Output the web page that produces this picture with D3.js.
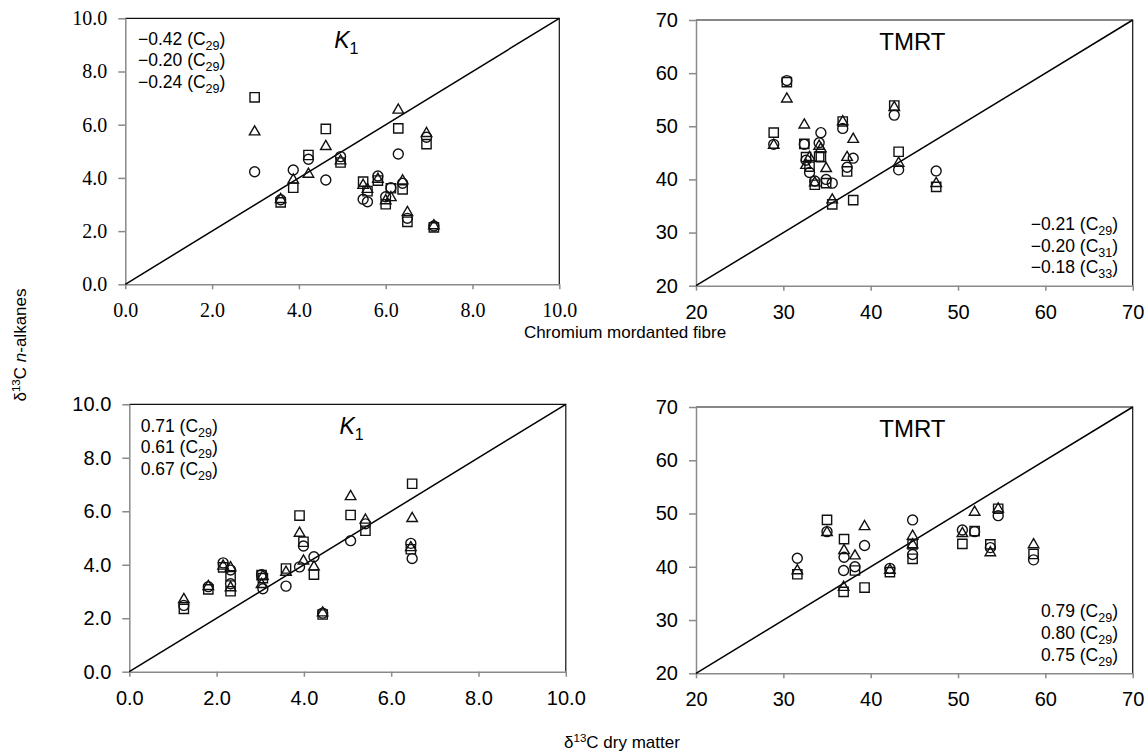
<!DOCTYPE html>
<html>
<head>
<meta charset="utf-8">
<script src="https://cdn.jsdelivr.net/npm/d3@7"></script>
<style>
  body { margin: 0; background: #fff; }
  text { fill: #000; }
</style>
</head>
<body>
<script>
// K1 panels (same samples in both rows)
const k1Circle   = [4.23, 3.18, 4.30, 4.70, 3.92, 4.80, 3.20, 3.10, 4.07, 3.29, 3.63, 4.90, 3.80, 2.48, 5.53, 2.19];
const k1Triangle = [5.76, 3.22, 3.95, 4.17, 5.21, 4.67, 3.75, 3.60, 3.98, 3.17, 3.29, 6.58, 3.92, 2.73, 5.70, 2.23];
const k1Square   = [7.03, 3.08, 3.63, 4.86, 5.84, 4.58, 3.86, 3.50, 3.90, 3.01, 3.61, 5.86, 3.57, 2.35, 5.27, 2.14];
const k1Fibre    = [2.98, 3.58, 3.87, 4.22, 4.62, 4.96, 5.48, 5.58, 5.82, 6.00, 6.12, 6.29, 6.39, 6.50, 6.94, 7.11];
const k1Dry      = [6.48, 1.81, 4.23, 3.99, 3.90, 6.45, 3.59, 3.06, 2.15, 2.32, 3.03, 5.07, 2.32, 1.25, 5.41, 4.43];

// TMRT panels
const tmrtCircle   = [46.6, 58.6, 46.6, 43.6, 41.3, 39.7, 46.9, 48.8, 40.0, 39.3, 49.6, 42.3, 44.0, 52.1, 41.8, 41.6];
const tmrtTriangle = [46.6, 55.3, 50.4, 42.8, 44.3, 39.5, 46.4, 45.9, 42.2, 36.3, 51.0, 44.3, 47.7, 53.7, 43.2, 39.4];
const tmrtSquare   = [48.8, 58.3, 46.7, 44.2, 42.4, 39.0, 44.3, 44.2, 39.3, 35.3, 50.9, 41.5, 36.1, 53.9, 45.2, 38.6];
const tmrtFibre    = [28.9, 30.4, 32.4, 32.6, 33.0, 33.6, 34.1, 34.3, 34.9, 35.6, 36.8, 37.3, 38.0, 42.7, 43.2, 47.5];
const tmrtDry      = [35.0, null, 51.9, 53.7, 58.65, 42.2, 50.5, 44.8, 38.2, 36.9, 54.6, 44.8, 39.3, null, 36.95, 31.6];

const k1Ticks = [0, 2, 4, 6, 8, 10];
const tmrtTicks = [20, 30, 40, 50, 60, 70];

const corrFibreK1 = [["−0.42", "29"], ["−0.20", "29"], ["−0.24", "29"]];
const corrFibreTmrt = [["−0.21", "29"], ["−0.20", "31"], ["−0.18", "33"]];
const corrDryK1 = [["0.71", "29"], ["0.61", "29"], ["0.67", "29"]];
const corrDryTmrt = [["0.79", "29"], ["0.80", "29"], ["0.75", "29"]];

const sans = "'Liberation Sans', Arial, sans-serif";
const serif = "'Liberation Serif', 'Times New Roman', serif";

const svg = d3.select("body").append("svg")
    .attr("width", 1145)
    .attr("height", 752);

function drawPanel(p) {
    const x = d3.scaleLinear().domain(p.domain).range([p.left, p.right]);
    const y = d3.scaleLinear().domain(p.domain).range([p.bottom, p.top]);
    const g = svg.append("g");

    // top and right border
    g.append("path")
        .attr("d", `M${p.left},${p.top}H${p.right}V${p.bottom}`)
        .attr("fill", "none")
        .attr("stroke", "#111")
        .attr("stroke-width", 1.2);

    const xAxis = g.append("g")
        .attr("transform", `translate(0,${p.bottom})`)
        .call(d3.axisBottom(x).tickValues(p.ticks).tickFormat(p.fmt)
            .tickSizeInner(5).tickSizeOuter(0).tickPadding(14));
    const yAxis = g.append("g")
        .attr("transform", `translate(${p.left},0)`)
        .call(d3.axisLeft(y).tickValues(p.ticks).tickFormat(p.fmt)
            .tickSizeInner(7).tickSizeOuter(0).tickPadding(11));

    [xAxis, yAxis].forEach(a => {
        a.select(".domain").attr("stroke", "#8a8a8a").attr("stroke-width", 1.5);
        a.selectAll(".tick line").attr("stroke", "#8a8a8a").attr("stroke-width", 1.5);
        a.selectAll(".tick text")
            .style("font-family", p.font)
            .style("font-size", "20px")
            .attr("fill", "#000");
    });

    // 1:1 line
    g.append("line")
        .attr("x1", x(p.domain[0])).attr("y1", y(p.domain[0]))
        .attr("x2", x(p.domain[1])).attr("y2", y(p.domain[1]))
        .attr("stroke", "#000")
        .attr("stroke-width", 1.5);

    const series = [
        { vals: p.circle, type: d3.symbolCircle, size: 78 },
        { vals: p.triangle, type: d3.symbolTriangle, size: 48 },
        { vals: p.square, type: d3.symbolSquare, size: 86 }
    ];
    series.forEach(s => {
        const pts = p.xs.map((v, i) => [v, s.vals[i]]).filter(d => d[0] != null);
        g.selectAll(null)
            .data(pts)
            .join("path")
            .attr("d", d3.symbol().type(s.type).size(s.size))
            .attr("transform", d => `translate(${x(d[0])},${y(d[1]) + (s.type === d3.symbolTriangle ? 0.8 : 0)})`)
            .attr("fill", "none")
            .attr("stroke", "#111")
            .attr("stroke-width", 1.4);
    });

    // panel title
    const cx = (p.left + p.right) / 2;
    if (p.title === "K1") {
        const t = g.append("text")
            .attr("x", cx + 4).attr("y", p.top + 30)
            .attr("text-anchor", "middle")
            .style("font-family", sans)
            .style("font-size", "23px");
        t.append("tspan").style("font-style", "italic").text("K");
        t.append("tspan").attr("dy", 6).style("font-size", "16px").text("1");
    } else {
        g.append("text")
            .attr("x", cx - 2).attr("y", p.top + 30)
            .attr("text-anchor", "middle")
            .style("font-family", sans)
            .style("font-size", "24px")
            .text(p.title);
    }

    // correlation coefficients
    p.corr.forEach((c, i) => {
        const t = g.append("text")
            .attr("x", p.corrX)
            .attr("y", p.corrY + i * 21.7)
            .attr("text-anchor", p.anchor)
            .style("font-family", sans)
            .style("font-size", "17.5px");
        t.append("tspan").text(`${c[0]} (C`);
        t.append("tspan").attr("dy", 5).style("font-size", "12.5px").text(c[1]);
        t.append("tspan").attr("dy", -5).text(")");
    });
}

const fmtK1 = d3.format(".1f");
const fmtTmrt = d3.format("d");

drawPanel({ left: 125.3, right: 559.3, top: 18.3, bottom: 284.3, domain: [0, 10], ticks: k1Ticks, fmt: fmtK1,
    font: serif, xs: k1Fibre, circle: k1Circle, triangle: k1Triangle, square: k1Square,
    title: "K1", corr: corrFibreK1, corrX: 138, corrY: 44.5, anchor: "start" });

drawPanel({ left: 696, right: 1132.7, top: 20, bottom: 285.7, domain: [20, 70], ticks: tmrtTicks, fmt: fmtTmrt,
    font: sans, xs: tmrtFibre, circle: tmrtCircle, triangle: tmrtTriangle, square: tmrtSquare,
    title: "TMRT", corr: corrFibreTmrt, corrX: 1118, corrY: 230, anchor: "end" });

drawPanel({ left: 129.3, right: 565.8, top: 404.3, bottom: 671.7, domain: [0, 10], ticks: k1Ticks, fmt: fmtK1,
    font: sans, xs: k1Dry, circle: k1Circle, triangle: k1Triangle, square: k1Square,
    title: "K1", corr: corrDryK1, corrX: 140.7, corrY: 431.7, anchor: "start" });

drawPanel({ left: 696, right: 1132.7, top: 407, bottom: 673.3, domain: [20, 70], ticks: tmrtTicks, fmt: fmtTmrt,
    font: sans, xs: tmrtDry, circle: tmrtCircle, triangle: tmrtTriangle, square: tmrtSquare,
    title: "TMRT", corr: corrDryTmrt, corrX: 1118, corrY: 617.3, anchor: "end" });

// axis titles
svg.append("text")
    .attr("x", 625).attr("y", 338)
    .attr("text-anchor", "middle")
    .style("font-family", sans)
    .style("font-size", "17px")
    .text("Chromium mordanted fibre");

const dm = svg.append("text")
    .attr("x", 622).attr("y", 748)
    .attr("text-anchor", "middle")
    .style("font-family", sans)
    .style("font-size", "17px");
dm.append("tspan").text("δ");
dm.append("tspan").attr("dy", -6).style("font-size", "11.5px").text("13");
dm.append("tspan").attr("dy", 6).text("C dry matter");

const yl = svg.append("text")
    .attr("transform", "translate(26,345) rotate(-90)")
    .attr("text-anchor", "middle")
    .style("font-family", sans)
    .style("font-size", "17px");
yl.append("tspan").text("δ");
yl.append("tspan").attr("dy", -6).style("font-size", "11.5px").text("13");
yl.append("tspan").attr("dy", 6).text("C ");
yl.append("tspan").style("font-style", "italic").text("n");
yl.append("tspan").text("-alkanes");
</script>
</body>
</html>
